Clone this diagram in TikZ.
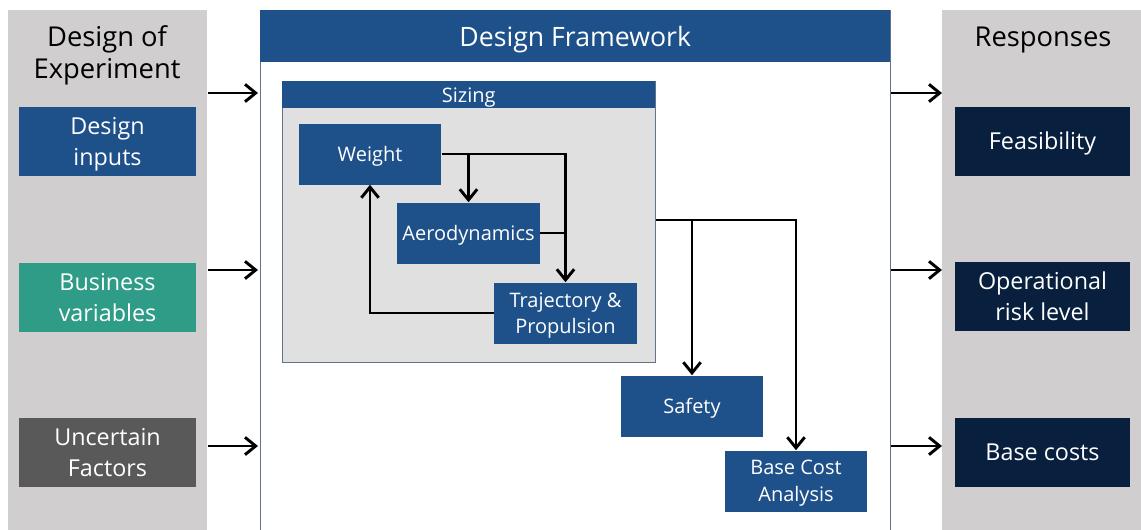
\documentclass[tikz,border=0pt]{standalone}
\usepackage{fontspec}
\setsansfont{Open Sans}
\usetikzlibrary{arrows.meta, positioning, calc}
\definecolor{dfblue}{HTML}{1E508A}
\definecolor{dfteal}{HTML}{2E9C87}
\definecolor{dfgrey}{HTML}{595959}
\definecolor{dfnavy}{HTML}{08203E}
\definecolor{panelgrey}{HTML}{D0CECE}
\definecolor{sizegrey}{HTML}{E0E0E0}
\definecolor{frameline}{HTML}{62728A}
\tikzset{
  >=Latex,
  font=\sffamily,
  panel/.style={fill=panelgrey, draw=none, anchor=north west, inner sep=0pt,
    minimum width=149.25pt, minimum height=400pt},
  ptitle/.style={align=center, text=black, text depth=0pt,
    font=\sffamily\fontsize{20.5}{24.5}\selectfont},
  inbox/.style={fill=#1, text=white, align=center, inner sep=0pt, text depth=0pt,
    minimum width=132.75pt, minimum height=51.75pt,
    font=\sffamily\fontsize{17.5}{23}\selectfont},
  inbox/.default=dfblue,
  outbox/.style={inbox=dfnavy, minimum width=131.25pt},
  blk/.style={fill=dfblue, text=white, align=center, inner sep=0pt, text depth=0pt,
    minimum width=107pt, minimum height=45.75pt,
    font=\sffamily\fontsize{15}{20}\selectfont},
  band/.style={fill=dfblue, text=white, anchor=north west, inner sep=0pt, text depth=0pt},
  arr/.style={-{Straight Barb[length=8pt,width=13pt,line width=2.2pt]}, line width=2.2pt},
  link/.style={line width=2.2pt}
}
\begin{document}
\begin{tikzpicture}[x=0.75pt,y=-0.75pt]
  \useasboundingbox (0,0) rectangle (1141,529);
  \node[panel] (doe) at (8,10) {};
  \node[panel] (resp) at (942,10) {};
  \node[ptitle] (doet) at (107,52) {Design of\\Experiment};
  \node[ptitle] (respt) at (1043,37) {Responses};

  \node[inbox] (din) at (107.5,141.5) {Design\\inputs};
  \node[inbox=dfteal] (bv) at (107.5,297.5) {Business\\variables};
  \node[inbox=dfgrey] (uf) at (107.5,452.5) {Uncertain\\Factors};

  \node[outbox] (fe) at (1042.5,141) {Feasibility};
  \node[outbox] (orl) at (1042.5,296) {Operational\\risk level};
  \node[outbox] (bcs) at (1042.5,452) {Base costs};

  \node[draw=frameline, line width=1.1pt, fill=white, anchor=north west, inner sep=0pt,
    minimum width=472.5pt, minimum height=400pt] (fw) at (260,10) {};
  \node[band, minimum width=472.5pt, minimum height=39pt,
    font=\sffamily\fontsize{20}{24}\selectfont] (fwt) at (260,10) {Design Framework};

  \node[draw=frameline, line width=1.1pt, fill=sizegrey, anchor=north west, inner sep=0pt,
    minimum width=279.75pt, minimum height=210.75pt] (sz) at (282,81) {};
  \node[band, minimum width=279.75pt, minimum height=20.25pt,
    font=\sffamily\fontsize{15}{18}\selectfont] (szt) at (282,81) {Sizing};

  \node[blk] (w) at (370,154) {Weight};
  \node[blk] (a) at (468.5,233) {Aerodynamics};
  \node[blk] (tp) at (565.5,313) {Trajectory \&\\Propulsion};
  \node[blk] (sf) at (692,406) {Safety};
  \node[blk] (bca) at (796,481) {Base Cost\\Analysis};

  \draw[arr] (w.east) -| (tp.north);
  \draw[arr] (a.north |- w.east) -- (a.north);
  \draw[link] (a.east) -- (a.east -| tp.north);
  \draw[arr] (tp.west) -| (w.south);
  \draw[arr] (sz.east |- 0,220) -| (bca.north);
  \draw[arr] (sf.north |- 0,220) -- (sf.north);

  \foreach \yy in {93,270,446}{
    \draw[arr] (doe.east |- 0,\yy) -- ([xshift=-1.5pt]fw.west |- 0,\yy);
    \draw[arr] (fw.east |- 0,\yy) -- (resp.west |- 0,\yy);
  }
\end{tikzpicture}
\end{document}
